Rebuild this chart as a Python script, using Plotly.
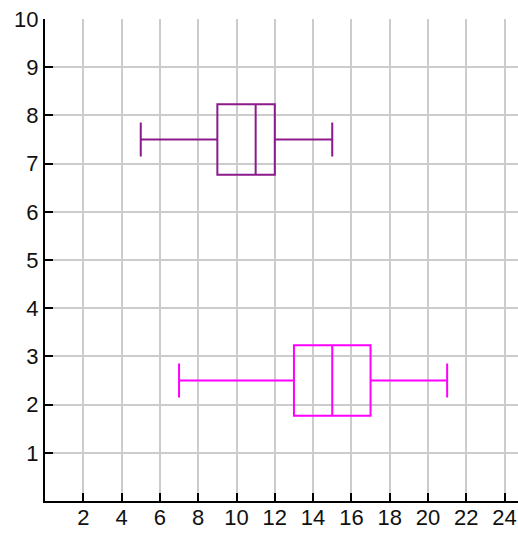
import plotly.graph_objects as go

series_names = ["A", "B"]
positions = [7.5, 2.5]
lower = [5, 7]
q1 = [9, 13]
median = [11, 15]
q3 = [12, 17]
upper = [15, 21]
colors = ["#8b1a8b", "#ff00ff"]

x_ticks = list(range(2, 25, 2))
y_ticks = list(range(1, 11))

fig = go.Figure()
for i in range(len(series_names)):
    fig.add_trace(go.Box(
        name=series_names[i],
        orientation="h",
        y=[positions[i]],
        q1=[q1[i]], median=[median[i]], q3=[q3[i]],
        lowerfence=[lower[i]], upperfence=[upper[i]],
        width=1.46,
        whiskerwidth=0.48,
        fillcolor="rgba(0,0,0,0)",
        line=dict(color=colors[i], width=2),
        showlegend=False,
        hoverinfo="skip",
    ))

font = dict(family="Liberation Sans, Arial, sans-serif", size=22, color="#111111")
fig.update_layout(
    width=518, height=533,
    margin=dict(l=45, r=0, t=19, b=32),
    paper_bgcolor="white", plot_bgcolor="white",
    boxmode="overlay",
    font=font,
    xaxis=dict(range=[0, 24.7], tickvals=x_ticks, ticks="inside", ticklen=8,
               tickwidth=2, tickcolor="black", showline=True, linecolor="black",
               linewidth=2, showgrid=True, gridcolor="#cccccc", gridwidth=2,
               zeroline=False, tickfont=font, automargin=False,
               ticklabeloverflow="allow", ticklabelstandoff=-4),
    yaxis=dict(range=[0, 10], tickvals=y_ticks, ticks="inside", ticklen=8,
               tickwidth=2, tickcolor="black", showline=True, linecolor="black",
               linewidth=2, showgrid=True, gridcolor="#cccccc", gridwidth=2,
               zeroline=False, tickfont=font, automargin=False,
               ticklabeloverflow="allow"),
)
fig.write_html("out.html", config={"displayModeBar": False},
               post_script="document.body.style.margin='0';document.body.style.overflow='hidden';")
